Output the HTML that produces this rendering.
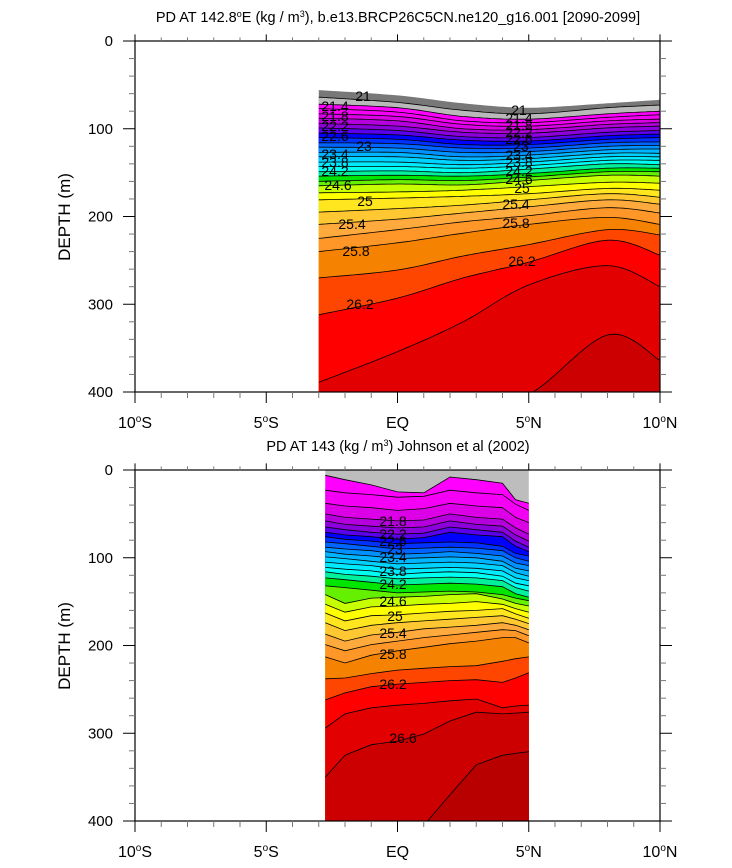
<!DOCTYPE html>
<html><head><meta charset="utf-8"><title>PD sections</title>
<style>
html,body{margin:0;padding:0;background:#fff;}
svg{display:block;font-family:"Liberation Sans",sans-serif;}
</style></head>
<body>
<svg id="chart" width="732" height="868" viewBox="0 0 732 868">
<defs>
<clipPath id="clipTop"><rect x="135" y="41" width="525" height="351"/></clipPath>
<clipPath id="clipBot"><rect x="135" y="470" width="525" height="351"/></clipPath>
</defs>
<g id="topPlot"></g>
<g id="botPlot"></g>
</svg>
<script>
// ---------- data ----------
const levels = [21.0,21.2,21.4,21.6,21.8,22.0,22.2,22.4,22.6,22.8,23.0,23.2,23.4,23.6,23.8,24.0,24.2,24.4,24.6,24.8,25.0,25.2,25.4,25.6,25.8,26.0,26.2,26.4,26.6,26.8];
const levelColors = ["#b9b9b9","#ff00ff","#f400f4","#dc00e6","#b400dc","#8c00dc","#5a00eb","#0000ff","#0032ff","#0064ff","#0091ff","#00b4ff","#00d2ff","#00ebff","#00fff0","#00f09b","#00e600","#64f000","#c8ff00","#ffff00","#ffe61e","#ffc832","#ffaa3c","#ff9628","#f58200","#ff4600","#ff0000","#e20000","#cc0000","#b80000"];
const xTicks = [-10,-5,0,5,10];
const xTickLabels = ["10°S","5°S","EQ","5°N","10°N"];
const yTicks = [0,100,200,300,400];

const topLon = [-3,0,2.5,5,8,10];
const topSurface = [56,62,71,76,71,67];
const topLevels = [21.0,21.2,21.4,21.6,21.8,22.0,22.2,22.4,22.6,22.8,23.0,23.2,23.4,23.6,23.8,24.0,24.2,24.4,24.6,24.8,25.0,25.2,25.4,25.6,25.8,26.0,26.2,26.4,26.6];
const topDepths = [
[64,70,79,83,76,73],
[72,76,86,89,83,80],
[77,81,91,93,87,84],
[83,86,95,97,91,89],
[88,91,100,101,95,93],
[94,97,104,105,99,97],
[99,102,109,110,104,102],
[105,107,113,114,108,106],
[110,112,118,118,112,110],
[116,117,122,122,116,115],
[121,122,127,126,120,119],
[127,127,132,130,124,123],
[132,132,136,134,128,128],
[138,138,141,138,132,132],
[143,143,145,142,136,136],
[149,148,150,146,140,141],
[154,153,154,151,145,145],
[160,158,159,155,149,149],
[165,163,164,159,153,154],
[173,172,170,166,161,162],
[181,179,177,174,168,170],
[195,191,187,181,174,178],
[209,203,196,189,181,186],
[225,215,206,199,190,196],
[240,230,219,209,201,209],
[270,261,245,232,215,221],
[312,293,270,252,227,244],
[389,354,320,278,256,280],
[430,430,420,403,335,364]];

const botLon = [-2.75,-2,-1,0,1,2,3,4,4.5,5];
const botLevels = [21.2,21.4,21.6,21.8,22.0,22.2,22.4,22.6,22.8,23.0,23.2,23.4,23.6,23.8,24.0,24.2,24.4,24.6,24.8,25.0,25.2,25.4,25.6,25.8,26.0,26.2,26.4,26.6,26.8];
const botDepths = [
[6,11,17,25,26,8,11,15,34,38],
[23,26,28,31,30,23,26,28,39,46],
[38,41,43,46,44,38,41,43,54,60],
[50,54,56,58,57,50,54,56,66,73],
[58,62,64,66,65,58,62,64,74,81],
[65,68,71,73,72,65,68,71,81,88],
[71,74,76,79,77,71,74,76,87,93],
[76,79,81,84,83,82,83,87,95,98],
[82,84,87,90,89,88,89,92,100,104],
[88,90,92,96,95,93,95,98,106,109],
[93,96,98,101,100,99,100,104,112,115],
[99,101,104,107,106,105,106,109,117,121],
[105,107,109,113,112,111,112,115,123,126],
[111,113,115,119,117,116,117,121,129,132],
[116,119,121,124,123,122,123,126,134,138],
[123,125,128,131,130,129,130,133,141,145],
[132,134,137,140,139,138,139,142,146,149],
[142,152,146,145,144,142,141,147,152,155],
[153,162,156,155,153,152,150,153,158,162],
[163,172,166,165,163,161,160,158,164,169],
[174,183,177,174,172,170,168,166,170,175],
[187,195,188,185,181,179,177,174,177,182],
[199,206,199,195,191,188,185,182,183,189],
[213,220,211,206,202,198,195,191,191,197],
[238,237,232,228,226,224,223,218,215,213],
[262,254,247,244,242,240,239,242,237,231],
[294,278,271,268,266,263,261,271,269,268],
[350,325,313,309,301,286,276,278,277,276],
[410,410,410,410,405,370,336,325,323,321]];

// ---------- helpers ----------
const NS = "http://www.w3.org/2000/svg";
const X0 = 135, X1 = 660;
function xS(lon){ return X0 + (lon + 10) * (X1 - X0) / 20; }
function yS(d, top){ return top + d * 351 / 400; }
function mk(tag, attrs, parent){
  const el = document.createElementNS(NS, tag);
  for (const k in attrs) el.setAttribute(k, attrs[k]);
  parent.appendChild(el);
  return el;
}
function colorFor(lv){ return levelColors[levels.indexOf(lv)]; }
function curvePts(lons, deps, top, smooth){
  const p = lons.map((l,i)=>[xS(l), yS(deps[i], top)]);
  if (!smooth) return p;
  const out = [];
  for (let i=0;i<p.length-1;i++){
    const p0 = p[Math.max(0,i-1)], p1 = p[i], p2 = p[i+1], p3 = p[Math.min(p.length-1,i+2)];
    for (let s=0;s<16;s++){
      const t = s/16, t2=t*t, t3=t2*t;
      const f = (a,b,c,d)=>0.5*((2*b)+(-a+c)*t+(2*a-5*b+4*c-d)*t2+(-a+3*b-3*c+d)*t3);
      out.push([f(p0[0],p1[0],p2[0],p3[0]), f(p0[1],p1[1],p2[1],p3[1])]);
    }
  }
  out.push(p[p.length-1]);
  return out;
}
function ptsStr(pts){ return pts.map(q=>q[0].toFixed(1)+","+q[1].toFixed(1)).join(" "); }

function drawPanel(g, top, lons, surface, lvls, depths, smooth, clipId, surfColor){
  const body = mk("g", {"clip-path":"url(#"+clipId+")"}, g);
  
  
  const xl = xS(lons[0]), xr = xS(lons[lons.length-1]), yb = top + 360;
  const sp = curvePts(lons, surface, top, smooth);
  const sPoly = mk("polygon", {points: ptsStr(sp.concat([[xr,yb],[xl,yb]])), fill: surfColor}, body);
  
  
  const lines = [];
  lvls.forEach((lv, k)=>{
    const pts = curvePts(lons, depths[k], top, smooth);
    const poly = mk("polygon", {points: ptsStr(pts.concat([[xr,yb],[xl,yb]])), fill: colorFor(lv)}, body);
    
    
    lines.push([lv, pts]);
  });
  lines.forEach(([lv, pts])=>{
    const pl = mk("polyline", {points: ptsStr(pts), fill:"none", stroke:"#000", "stroke-width":"0.8"}, body);
    
    
  });
  drawAxes(g, top);
}

function drawAxes(g, top){
  const bot = top + 351;
  const ax = mk("g", {stroke:"#000", "stroke-width":"1"}, g);
  
  
  mk("rect", {x:X0, y:top, width:X1-X0, height:351, fill:"none", "stroke-width":"1.2"}, ax);
  for (let lon=-10; lon<=10; lon++){
    const x = xS(lon), major = lon%5===0, L = major?11:6;
    mk("line",{x1:x,y1:bot,x2:x,y2:bot+L, stroke: major?"#000":"#777"}, ax);
    mk("line",{x1:x,y1:top,x2:x,y2:top-L*0.6, stroke: major?"#000":"#777"}, ax);
  }
  for (let d=0; d<=400; d+=20){
    const y = yS(d, top), major = d%100===0, L = major?12:6;
    mk("line",{x1:X0,y1:y,x2:X0-L,y2:y, stroke: major?"#000":"#777"}, ax);
    mk("line",{x1:X1,y1:y,x2:X1+L,y2:y, stroke: major?"#000":"#777"}, ax);
  }
  yTicks.forEach(d=>{
    const t = mk("text",{x:113, y:yS(d,top)+5, "text-anchor":"end", "font-size":"15"}, g);
    t.textContent = String(d);
    
    
  });
  xTicks.forEach((lon,i)=>{
    const lab = xTickLabels[i];
    const t = mk("text",{x:xS(lon), y:bot+36, "text-anchor":"middle", "font-size":"16"}, g);
    
    
    if (lab.indexOf("°")>=0){
      const parts = lab.split("°");
      const a = mk("tspan",{},t); a.textContent = parts[0];
      const b = mk("tspan",{dy:"-6","font-size":"10"},t); b.textContent = "o";
      const c = mk("tspan",{dy:"6"},t); c.textContent = parts[1];
    } else t.textContent = lab;
  });
  const yl = mk("text",{x:70, y:top+176, "text-anchor":"middle", "font-size":"17", transform:"rotate(-90 70 "+(top+176)+")"}, g);
  yl.textContent = "DEPTH (m)";
  
  
}

const topG = document.getElementById("topPlot");
const botG = document.getElementById("botPlot");
drawPanel(topG, 41, topLon, topSurface, topLevels, topDepths, true, "clipTop", "#787878");
drawPanel(botG, 470, botLon, [0,0,0,0,0,0,0,0,0,0], botLevels, botDepths, false, "clipBot", "#bdbdbd");
</script>
<script>
(function(){
  const NS="http://www.w3.org/2000/svg", s=document.getElementById("chart");
  function txt(x,y,str,size,name,anchor,rot){
    const t=document.createElementNS(NS,"text");
    t.setAttribute("x",x);t.setAttribute("y",y);t.setAttribute("font-size",size);
    t.setAttribute("text-anchor",anchor||"middle");
    if(rot) t.setAttribute("transform","rotate("+rot+" "+x+" "+y+")");
    
    
    t.textContent=str; s.appendChild(t); return t;
  }
  const t1=txt(398,22,"",14.5,"top-title");
  t1.innerHTML='PD AT 142.8<tspan dy="-5" font-size="9">o</tspan><tspan dy="5">E (kg / m</tspan><tspan dy="-5" font-size="9">3</tspan><tspan dy="5">), b.e13.BRCP26C5CN.ne120_g16.001 [2090-2099]</tspan>';
  const t2=txt(398,451,"",14.5,"bottom-title");
  t2.innerHTML='PD AT 143 (kg / m<tspan dy="-5" font-size="9">3</tspan><tspan dy="5">) Johnson et al (2002)</tspan>';
  const L=[[363,101,"21"],[335,111,"21.4"],[335,121,"21.8"],[335,131,"22.2"],[335,141,"22.6"],[364,151,"23"],[335,159,"23.4"],[335,167,"23.8"],[335,176,"24.2"],[338,190,"24.6"],[365,206,"25"],[352,229,"25.4"],[356,256,"25.8"],[360,309,"26.2"],
    [519,115,"21"],[519,123,"21.4"],[519,130,"21.8"],[519,137,"22.2"],[519,144,"22.6"],[521,151,"23"],[519,160,"23.4"],[519,167,"23.8"],[519,176,"24.2"],[519,184,"24.6"],[522,193,"25"],[516,209,"25.4"],[516,228,"25.8"],[522,266,"26.2"],
    [393,526,"21.8"],[393,539,"22.2"],[393,546,"22.6"],[395,554,"23"],[393,562,"23.4"],[393,576,"23.8"],[393,589,"24.2"],[393,606,"24.6"],[395,621,"25"],[393,638,"25.4"],[393,659,"25.8"],[393,689,"26.2"],[403,743,"26.6"]];
  L.forEach(a=>txt(a[0],a[1],a[2],14,"contour-label"));
})();
</script>
</body></html>
